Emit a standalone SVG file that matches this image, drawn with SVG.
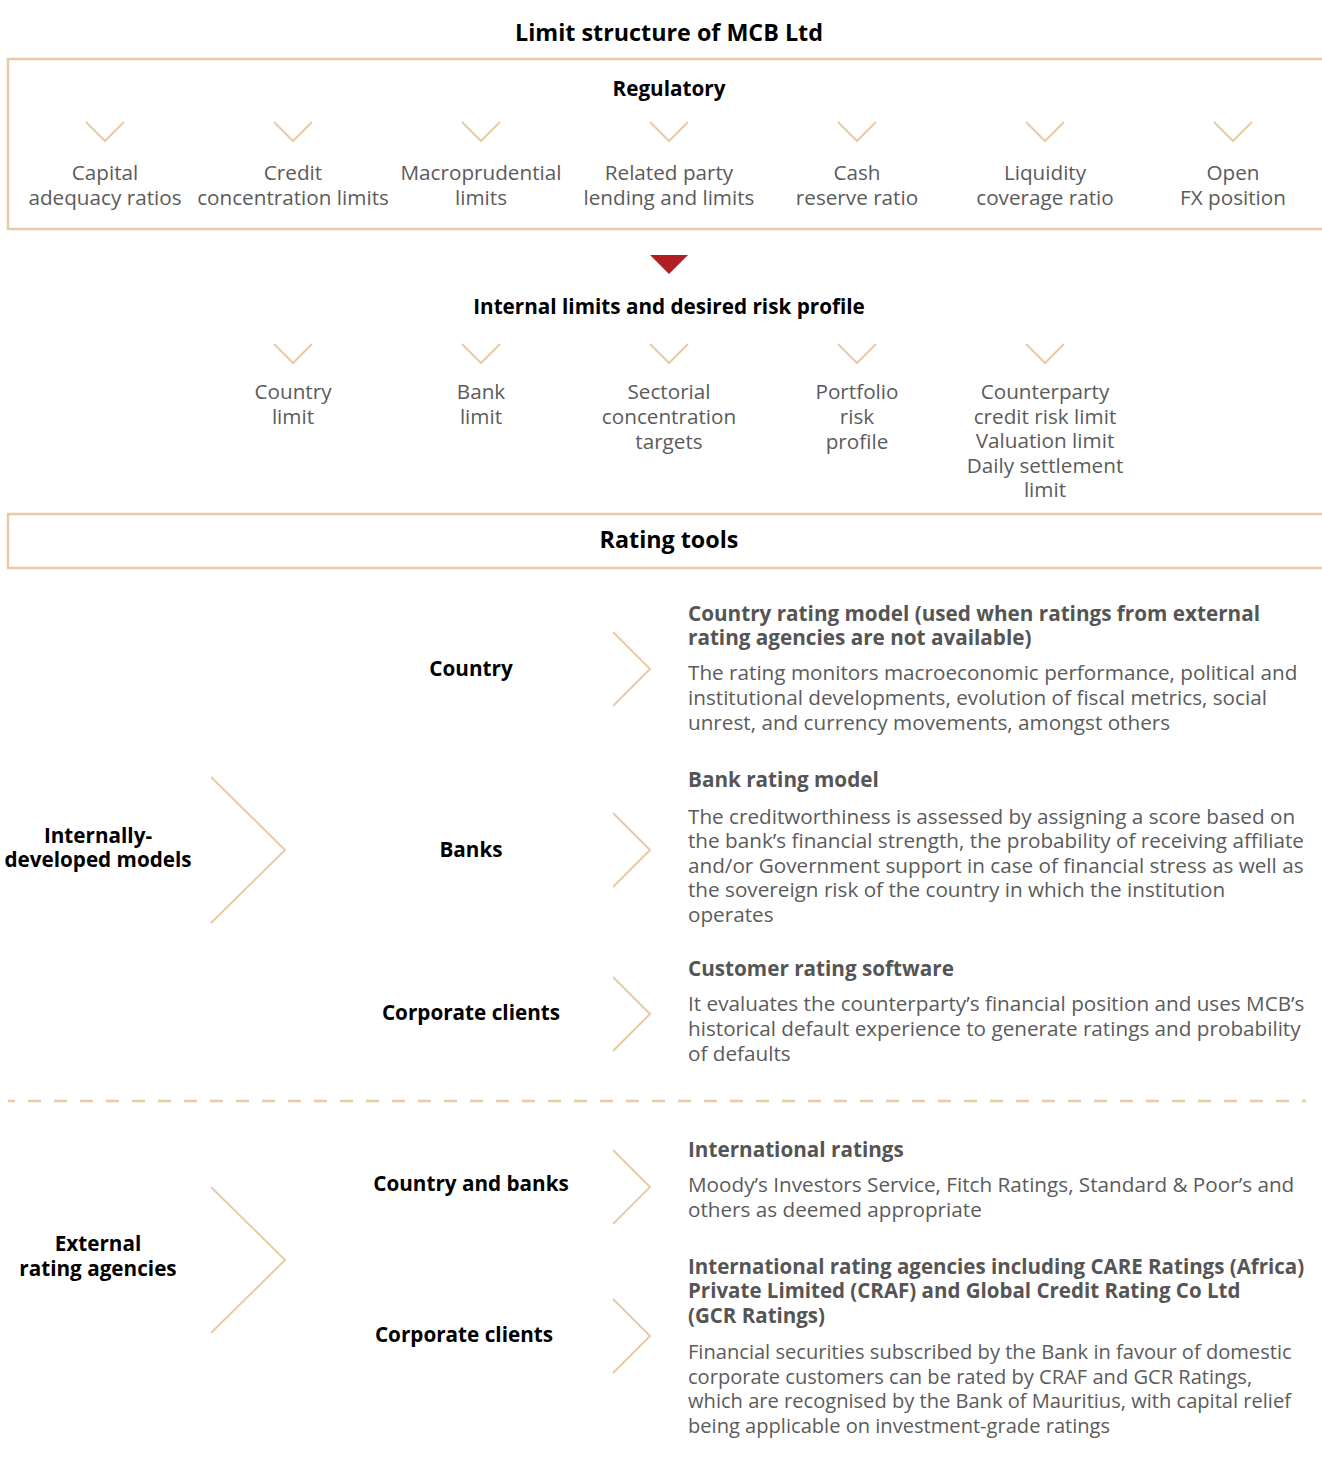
<svg xmlns="http://www.w3.org/2000/svg" width="1322" height="1463" viewBox="0 0 1322 1463">
<style>
text{font-family:"Open Sans","Noto Sans","Liberation Sans",sans-serif;}
.t{font-size:23.3px;font-weight:700;fill:#000;text-anchor:middle;}
.h{font-size:20.7px;font-weight:700;fill:#000;text-anchor:middle;}
.l{font-size:20.7px;fill:#5b5b5b;text-anchor:middle;}
.rh{font-size:20.7px;font-weight:700;fill:#555;}
.rb{font-size:20.7px;fill:#5b5b5b;}
.rh2{font-size:20.5px;font-weight:700;fill:#555;}
.rb2{font-size:20.1px;fill:#5b5b5b;}
.box{fill:none;stroke:#E8CBA6;stroke-width:2.5;}
.cv{fill:none;stroke:#E8CBA6;stroke-width:2;}
.dash{stroke:#E8CBA6;stroke-width:2.5;stroke-dasharray:13 13;stroke-dashoffset:6;}
</style>
<rect width="1322" height="1463" fill="#fff"/>

<g id="title"><text class="t" x="669" y="41">Limit structure of MCB Ltd</text></g>

<g id="regulatory">
<rect class="box" x="8" y="59" width="1330" height="170"/>
<text class="h" x="669" y="96">Regulatory</text>
</g>
<g id="reg-capital"><text class="l" x="105" y="180">Capital</text><text class="l" x="105" y="205">adequacy ratios</text></g>
<g id="reg-credit"><text class="l" x="293" y="180">Credit</text><text class="l" x="293" y="205">concentration limits</text></g>
<g id="reg-macro"><text class="l" x="481" y="180">Macroprudential</text><text class="l" x="481" y="205">limits</text></g>
<g id="reg-related"><text class="l" x="669" y="180">Related party</text><text class="l" x="669" y="205">lending and limits</text></g>
<g id="reg-cash"><text class="l" x="857" y="180">Cash</text><text class="l" x="857" y="205">reserve ratio</text></g>
<g id="reg-liquidity"><text class="l" x="1045" y="180">Liquidity</text><text class="l" x="1045" y="205">coverage ratio</text></g>
<g id="reg-fx"><text class="l" x="1233" y="180">Open</text><text class="l" x="1233" y="205">FX position</text></g>

<g id="internal"><text class="h" x="669" y="314">Internal limits and desired risk profile</text></g>
<g id="int-country"><text class="l" x="293" y="399">Country</text><text class="l" x="293" y="424">limit</text></g>
<g id="int-bank"><text class="l" x="481" y="399">Bank</text><text class="l" x="481" y="424">limit</text></g>
<g id="int-sector"><text class="l" x="669" y="399">Sectorial</text><text class="l" x="669" y="424">concentration</text><text class="l" x="669" y="449">targets</text></g>
<g id="int-portfolio"><text class="l" x="857" y="399">Portfolio</text><text class="l" x="857" y="424">risk</text><text class="l" x="857" y="449">profile</text></g>
<g id="int-counterparty"><text class="l" x="1045" y="399">Counterparty</text><text class="l" x="1045" y="424">credit risk limit</text><text class="l" x="1045" y="448">Valuation limit</text><text class="l" x="1045" y="473">Daily settlement</text><text class="l" x="1045" y="497">limit</text></g>

<g id="rating-tools">
<rect class="box" x="8" y="514" width="1330" height="54"/>
<text class="t" x="669" y="548">Rating tools</text>
</g>

<g id="internally-developed"><text class="h" x="98" y="843">Internally-</text><text class="h" x="98" y="867">developed models</text></g>
<g id="external-agencies"><text class="h" x="98" y="1251">External</text><text class="h" x="98" y="1276">rating agencies</text></g>

<g id="cat-country"><text class="h" x="471" y="676">Country</text></g>
<g id="cat-banks"><text class="h" x="471" y="857">Banks</text></g>
<g id="cat-corporate1"><text class="h" x="471" y="1020">Corporate clients</text></g>
<g id="cat-country-banks"><text class="h" x="471" y="1191">Country and banks</text></g>
<g id="cat-corporate2"><text class="h" x="464" y="1342">Corporate clients</text></g>

<g id="desc-country">
<text class="rh" x="688" y="621">Country rating model (used when ratings from external</text>
<text class="rh" x="688" y="645">rating agencies are not available)</text>
<text class="rb" x="688" y="680">The rating monitors macroeconomic performance, political and</text>
<text class="rb" x="688" y="705">institutional developments, evolution of fiscal metrics, social</text>
<text class="rb" x="688" y="730">unrest, and currency movements, amongst others</text>
</g>
<g id="desc-banks">
<text class="rh" x="688" y="787">Bank rating model</text>
<text class="rb" x="688" y="824">The creditworthiness is assessed by assigning a score based on</text>
<text class="rb" x="688" y="848">the bank’s financial strength, the probability of receiving affiliate</text>
<text class="rb" x="688" y="873">and/or Government support in case of financial stress as well as</text>
<text class="rb" x="688" y="897">the sovereign risk of the country in which the institution</text>
<text class="rb" x="688" y="922">operates</text>
</g>
<g id="desc-corporate1">
<text class="rh" x="688" y="976">Customer rating software</text>
<text class="rb" x="688" y="1011">It evaluates the counterparty’s financial position and uses MCB’s</text>
<text class="rb" x="688" y="1036">historical default experience to generate ratings and probability</text>
<text class="rb" x="688" y="1061">of defaults</text>
</g>
<g id="desc-international">
<text class="rh" x="688" y="1157">International ratings</text>
<text class="rb" x="688" y="1192">Moody’s Investors Service, Fitch Ratings, Standard &amp; Poor’s and</text>
<text class="rb" x="688" y="1217">others as deemed appropriate</text>
</g>
<g id="desc-corporate2">
<text class="rh2" x="688" y="1274">International rating agencies including CARE Ratings (Africa)</text>
<text class="rh2" x="688" y="1298">Private Limited (CRAF) and Global Credit Rating Co Ltd</text>
<text class="rh2" x="688" y="1323">(GCR Ratings)</text>
<text class="rb2" x="688" y="1359">Financial securities subscribed by the Bank in favour of domestic</text>
<text class="rb2" x="688" y="1384">corporate customers can be rated by CRAF and GCR Ratings,</text>
<text class="rb2" x="688" y="1408">which are recognised by the Bank of Mauritius, with capital relief</text>
<text class="rb2" x="688" y="1433">being applicable on investment-grade ratings</text>
</g>

<g id="connectors">
<polyline class="cv" points="86,122 105,141 124,122"/>
<polyline class="cv" points="274,122 293,141 312,122"/>
<polyline class="cv" points="462,122 481,141 500,122"/>
<polyline class="cv" points="650,122 669,141 688,122"/>
<polyline class="cv" points="838,122 857,141 876,122"/>
<polyline class="cv" points="1026,122 1045,141 1064,122"/>
<polyline class="cv" points="1214,122 1233,141 1252,122"/>
<polygon points="650,255 688,255 669,274" fill="#B01F24"/>
<polyline class="cv" points="274,344 293,363 312,344"/>
<polyline class="cv" points="462,344 481,363 500,344"/>
<polyline class="cv" points="650,344 669,363 688,344"/>
<polyline class="cv" points="838,344 857,363 876,344"/>
<polyline class="cv" points="1026,344 1045,363 1064,344"/>
<polyline class="cv" points="211,777 285,850 211,923"/>
<polyline class="cv" points="211,1187 285,1260 211,1333"/>
<polyline class="cv" points="613,632 650,669 613,706"/>
<polyline class="cv" points="613,813 650,850 613,887"/>
<polyline class="cv" points="613,977 650,1014 613,1051"/>
<polyline class="cv" points="613,1150 650,1187 613,1224"/>
<polyline class="cv" points="613,1299 650,1336 613,1373"/>
<line class="dash" x1="8" y1="1101" x2="1306" y2="1101"/>
</g>
</svg>
